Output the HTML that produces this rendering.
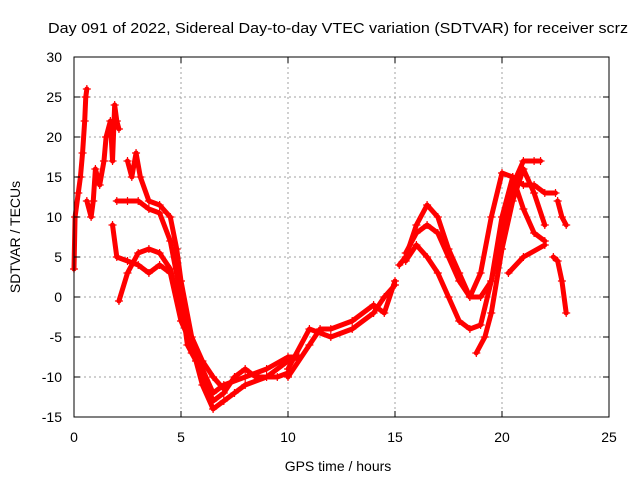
<!DOCTYPE html>
<html><head><meta charset="utf-8"><style>
body{margin:0;background:#fff;}
svg{display:block;font-family:"Liberation Sans",sans-serif;}
</style></head><body>
<svg id="chart" width="640" height="480" viewBox="0 0 640 480">
<rect width="640" height="480" fill="#fff"/>
<text x="48" y="33" font-size="15" textLength="580" lengthAdjust="spacingAndGlyphs">Day 091 of 2022, Sidereal Day-to-day VTEC variation (SDTVAR) for receiver scrz</text>
<g id="grid"></g>
<g id="marks"></g>
<rect x="74" y="57" width="535" height="360" fill="none" stroke="#000" stroke-width="1"/>
<g id="ticks"></g>
<text x="338" y="471" font-size="14" text-anchor="middle">GPS time / hours</text>
<text transform="translate(20,237) rotate(-90)" font-size="14" text-anchor="middle">SDTVAR / TECUs</text>
</svg>
<script>
const xTicks=[0,5,10,15,20,25];
const yTicks=[-15,-10,-5,0,5,10,15,20,25,30];
const trackA=[[0,3.5],[0.05,10],[0.2,13],[0.3,15],[0.4,18],[0.5,22],[0.55,25],[0.6,26]];
const trackA2=[[0.6,12],[0.8,10],[0.9,12],[1.0,16],[1.1,15],[1.2,14],[1.4,17],[1.5,20],[1.7,22],[1.8,17],[1.9,24],[2.0,22],[2.1,21]];
const trackB=[[2.0,12],[2.5,12],[3,12],[3.5,11],[4,10.5],[4.5,7],[5,0],[5.3,-6],[5.7,-8],[6,-11],[6.5,-14],[7,-13],[7.5,-12],[8,-11],[9,-10],[10,-8],[10.5,-7.5]];
const trackC=[[2.1,-0.5],[2.5,3],[3,5.5],[3.5,6],[4,5.5],[4.5,3.5],[5,-2],[5.5,-7],[6,-9],[6.5,-12],[7,-11],[8,-10],[9,-9],[10,-7.5],[10.5,-7.5]];
const trackD=[[1.8,9],[2,5],[2.5,4.5],[3,4],[3.5,3],[4,4],[4.5,3],[5,-3],[5.5,-6],[6,-10],[6.5,-13],[7,-12],[7.5,-10],[8,-9],[8.5,-10],[9.5,-10],[10,-9.5]];
const trackE=[[2.5,17],[2.7,15],[2.9,18],[3.1,15],[3.5,12],[4,11.5],[4.5,10],[4.8,6],[5,2],[5.5,-5],[6,-8],[6.5,-10],[7,-11.5]];
const trackF=[[10,-10],[11,-6],[11.5,-4],[12,-4],[13,-3],[14,-1],[14.5,-2],[15,2]];
const trackG=[[10,-9],[11,-4],[12,-5],[13,-4],[14,-2],[14.5,0],[15,1.5]];
const trackH=[[15.2,4],[15.5,5],[16,9],[16.5,11.5],[17,10],[17.5,6],[18,3],[18.5,0],[19,0],[19.5,2],[20,8],[20.5,14],[21,17],[21.5,17],[21.8,17]];
const trackI=[[15.5,4.5],[16,6.5],[16.5,5],[17,3],[17.5,0],[18,-3],[18.5,-4],[19,-3.5],[19.5,2],[20,10],[20.5,15],[21,14],[21.5,14],[22,13],[22.5,13]];
const trackJ=[[15.5,5.5],[16,8],[16.5,9],[17,8],[17.5,5],[18,2],[18.5,0],[19,3],[19.5,10],[20,15.5],[20.5,15],[21,11],[21.5,8],[22,7]];
const trackK=[[18.8,-7],[19.2,-5],[19.5,-2],[20,6],[20.5,12],[21,16],[21.5,13],[22,9]];
const trackL=[[20.3,3],[21,5],[22,6.5]];
const trackM=[[22.4,5],[22.6,4.5],[22.8,2],[23,-2]];
const trackN=[[22.6,12],[22.8,10],[23,9]];
const tracks=[trackA,trackA2,trackB,trackC,trackD,trackE,trackF,trackG,trackH,trackI,trackJ,trackK,trackL,trackM,trackN];
const NS='http://www.w3.org/2000/svg';
function X(v){return 74+(v-0)*(535/25);}
function Y(v){return 417-(v+15)*(360/45);}
const grid=document.getElementById('grid'),ticks=document.getElementById('ticks'),marks=document.getElementById('marks');
function mk(t,a,p){const e=document.createElementNS(NS,t);for(const k in a)e.setAttribute(k,a[k]);p.appendChild(e);return e;}
xTicks.forEach(v=>{
 if(v>0&&v<25){const g=mk('line',{x1:X(v),x2:X(v),y1:57,y2:417,stroke:'#a0a0a0','stroke-dasharray':'2,3'},grid);
 }
 const t=mk('text',{x:X(v),y:442,'font-size':14,'text-anchor':'middle'},ticks);t.textContent=v;
 
 mk('line',{x1:X(v),x2:X(v),y1:417,y2:411,stroke:'#000'},ticks);mk('line',{x1:X(v),x2:X(v),y1:57,y2:63,stroke:'#000'},ticks);
});
yTicks.forEach(v=>{
 if(v>-15&&v<30){const g=mk('line',{x1:74,x2:609,y1:Y(v),y2:Y(v),stroke:'#a0a0a0','stroke-dasharray':'2,3'},grid);
 }
 const t=mk('text',{x:62,y:Y(v)+5,'font-size':14,'text-anchor':'end'},ticks);t.textContent=v;
 
 mk('line',{x1:74,x2:80,y1:Y(v),y2:Y(v),stroke:'#000'},ticks);mk('line',{x1:609,x2:603,y1:Y(v),y2:Y(v),stroke:'#000'},ticks);
});
tracks.forEach(tr=>{
 const pl=mk('polyline',{points:tr.map(p=>X(p[0])+','+Y(p[1])).join(' '),fill:'none',stroke:'#f00','stroke-width':5,'stroke-linejoin':'round','stroke-linecap':'round'},marks);
 
 
 tr.forEach(p=>{
  const m=mk('path',{d:'M'+(X(p[0])-4)+' '+Y(p[1])+'h8M'+X(p[0])+' '+(Y(p[1])-4)+'v8',stroke:'#f00','stroke-width':1.2},marks);
  
  
 });
});
</script>
</body></html>
